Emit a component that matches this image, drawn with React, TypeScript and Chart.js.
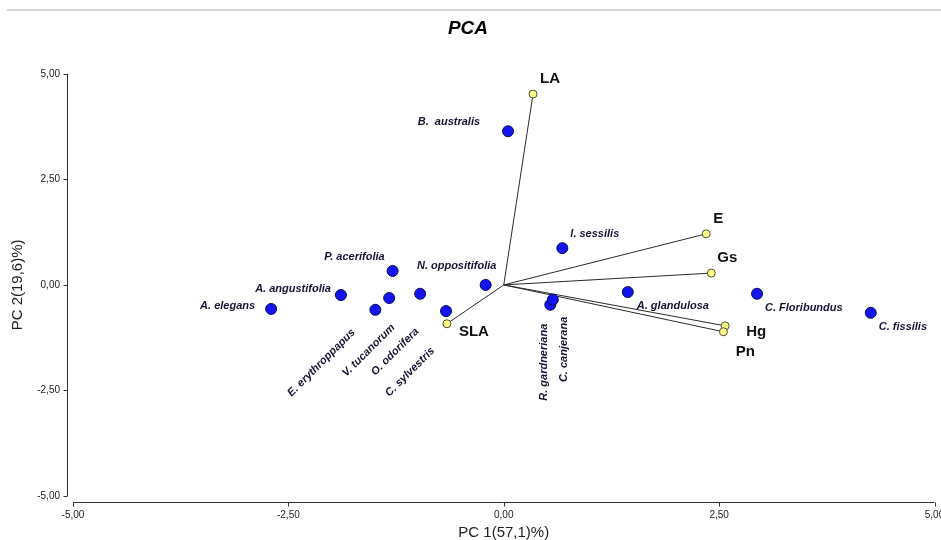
import React, { useEffect, useRef } from 'react';
import { Chart, registerables } from 'chart.js';

Chart.register(...registerables);

// ---- data ----
const speciesNames = [
  'A. elegans', 'A. angustifolia', 'P. acerifolia', 'E. erythroppapus', 'V. tucanorum',
  'O. odorifera', 'C. sylvestris', 'N. oppositifolia', 'B.  australis', 'I. sessilis',
  'R. gardneriana', 'C. canjerana', 'A. glandulosa', 'C. Floribundus', 'C. fissilis',
];
const speciesPC1 = [-2.70, -1.89, -1.29, -1.49, -1.33, -0.97, -0.67, -0.21, 0.05, 0.68, 0.54, 0.57, 1.44, 2.94, 4.26];
const speciesPC2 = [-0.57, -0.24, 0.33, -0.59, -0.31, -0.21, -0.62, 0.0, 3.64, 0.87, -0.47, -0.35, -0.17, -0.21, -0.66];

const variableNames = ['LA', 'E', 'Gs', 'Hg', 'Pn', 'SLA'];
const variablePC1 = [0.34, 2.35, 2.41, 2.57, 2.55, -0.66];
const variablePC2 = [4.52, 1.21, 0.28, -0.97, -1.11, -0.92];

const axisTicks = [-5, -2.5, 0, 2.5, 5];
const chartTitle = 'PCA';
const xTitle = 'PC 1(57,1)%)';
const yTitle = 'PC 2(19,6)%)';

// ---- label placement (pixel offsets from each mark, style only) ----
// [dx, dy, align, rotationDeg]
const speciesLabelPlace: [number, number, CanvasTextAlign, number][] = [
  [-16, -3, 'right', 0],
  [-10, -6, 'right', 0],
  [-8, -14, 'right', 0],
  [-22, 21, 'right', -45],
  [4, 28, 'right', -45],
  [-3, 36, 'right', -45],
  [-13, 38, 'right', -45],
  [-29, -19, 'center', 0],
  [-28, -9, 'right', 0],
  [8, -14, 'left', 0],
  [-6, 19, 'right', -90],
  [11, 17, 'right', -90],
  [9, 14, 'left', 0],
  [8, 14, 'left', 0],
  [8, 14, 'left', 0],
];
const variableLabelPlace: [number, number][] = [
  [17, -15], [12, -15], [16, -15], [31, 6], [22, 20], [27, 8],
];

const fmt = (v: number) => v.toFixed(2).replace('.', ',');

const labelPlugin = {
  id: 'pcaLabels',
  afterDatasetsDraw(chart: any) {
    const { ctx, scales } = chart;
    const xs = scales.x;
    const ys = scales.y;
    ctx.save();
    ctx.fillStyle = '#141432';
    ctx.font = 'italic bold 11px Arial, "Liberation Sans", sans-serif';
    ctx.textBaseline = 'middle';
    speciesNames.forEach((name, i) => {
      const px = xs.getPixelForValue(speciesPC1[i]);
      const py = ys.getPixelForValue(speciesPC2[i]);
      const [dx, dy, align, rot] = speciesLabelPlace[i];
      ctx.save();
      ctx.translate(px + dx, py + dy);
      ctx.rotate((rot * Math.PI) / 180);
      ctx.textAlign = align;
      ctx.fillText(name, 0, 0);
      ctx.restore();
    });
    ctx.fillStyle = '#111';
    ctx.font = 'bold 15px Arial, "Liberation Sans", sans-serif';
    ctx.textAlign = 'center';
    variableNames.forEach((name, i) => {
      const px = xs.getPixelForValue(variablePC1[i]);
      const py = ys.getPixelForValue(variablePC2[i]);
      const [dx, dy] = variableLabelPlace[i];
      ctx.fillText(name, px + dx, py + dy);
    });
    ctx.restore();
  },
};

// axes drawn slightly detached from the plot area, as in the reference
const axesPlugin = {
  id: 'offsetAxes',
  afterDraw(chart: any) {
    const { ctx, scales, chartArea } = chart;
    const xs = scales.x;
    const ys = scales.y;
    const yLine = Math.round(chartArea.bottom + 6) + 0.5;
    const xLine = Math.round(chartArea.left - 6) + 0.5;
    ctx.save();
    ctx.strokeStyle = '#333';
    ctx.lineWidth = 1;
    ctx.beginPath();
    // x axis
    ctx.moveTo(xs.getPixelForValue(axisTicks[0]), yLine);
    ctx.lineTo(xs.getPixelForValue(axisTicks[axisTicks.length - 1]), yLine);
    axisTicks.forEach((t) => {
      const px = Math.round(xs.getPixelForValue(t)) + 0.5;
      ctx.moveTo(px, yLine);
      ctx.lineTo(px, yLine + 4);
    });
    // y axis
    ctx.moveTo(xLine, ys.getPixelForValue(axisTicks[axisTicks.length - 1]));
    ctx.lineTo(xLine, ys.getPixelForValue(axisTicks[0]));
    axisTicks.forEach((t) => {
      const py = Math.round(ys.getPixelForValue(t)) + 0.5;
      ctx.moveTo(xLine, py);
      ctx.lineTo(xLine - 4, py);
    });
    ctx.stroke();
    ctx.restore();
  },
};

export default function App() {
  const ref = useRef<HTMLCanvasElement | null>(null);

  useEffect(() => {
    if (!ref.current) return;
    const lineSets = variableNames.map((n, i) => ({
      type: 'scatter' as const,
      label: n + ' vector',
      data: [{ x: 0, y: 0 }, { x: variablePC1[i], y: variablePC2[i] }],
      showLine: true,
      borderColor: '#2a2a2a',
      borderWidth: 1,
      pointRadius: 0,
      order: 3,
    }));
    const font10 = { family: 'Arial, "Liberation Sans", sans-serif', size: 10 };
    const chart = new Chart(ref.current, {
      type: 'scatter',
      data: {
        datasets: [
          {
            label: 'Species',
            data: speciesNames.map((_, i) => ({ x: speciesPC1[i], y: speciesPC2[i] })),
            backgroundColor: '#1414f0',
            borderColor: '#0a0a55',
            borderWidth: 1,
            pointRadius: 5.5,
            order: 1,
          },
          {
            label: 'Variables',
            data: variableNames.map((_, i) => ({ x: variablePC1[i], y: variablePC2[i] })),
            backgroundColor: '#ffff88',
            borderColor: '#4a4a3a',
            borderWidth: 1,
            pointRadius: 4,
            order: 0,
          },
          ...lineSets,
        ],
      },
      options: {
        responsive: false,
        animation: false,
        layout: { padding: { left: 0, right: 5, top: 0, bottom: 0 } },
        plugins: {
          legend: { display: false },
          tooltip: { enabled: false },
          title: {
            display: true,
            text: chartTitle,
            color: '#000',
            font: { family: 'Arial, "Liberation Sans", sans-serif', size: 19, weight: 'bold', style: 'italic' },
            padding: { top: 17, bottom: 34 },
          },
        },
        scales: {
          x: {
            type: 'linear',
            min: -5,
            max: 5,
            afterFit: (s: any) => {
              s.height = 44;
              s.paddingLeft = 0;
              s.paddingRight = 0;
            },
            afterBuildTicks: (s: any) => {
              s.ticks = axisTicks.map((v) => ({ value: v }));
            },
            ticks: {
              callback: (v: any) => fmt(Number(v)),
              font: font10,
              color: '#222',
              padding: 13,
              maxRotation: 0,
            },
            grid: { display: false, drawTicks: false, drawOnChartArea: false },
            border: { display: false },
            title: {
              display: true,
              text: xTitle,
              color: '#222',
              font: { family: 'Arial, "Liberation Sans", sans-serif', size: 15 },
              padding: { top: 0, bottom: -2 },
            },
          },
          y: {
            type: 'linear',
            min: -5,
            max: 5,
            afterFit: (s: any) => {
              s.width = 73;
            },
            afterBuildTicks: (s: any) => {
              s.ticks = axisTicks.map((v) => ({ value: v }));
            },
            ticks: {
              callback: (v: any) => fmt(Number(v)),
              font: font10,
              color: '#222',
              padding: 13,
            },
            grid: { display: false, drawTicks: false, drawOnChartArea: false },
            border: { display: false },
            title: {
              display: true,
              text: yTitle,
              color: '#222',
              font: { family: 'Arial, "Liberation Sans", sans-serif', size: 15 },
              padding: { top: 9, bottom: 0 },
            },
          },
        },
      },
      plugins: [labelPlugin, axesPlugin],
    } as any);
    return () => chart.destroy();
  }, []);

  return (
    <div style={{ position: 'fixed', left: 0, top: 0, width: 941, height: 540, background: '#fff' }}>
      <div style={{ position: 'absolute', left: 7, right: 0, top: 9, height: 2, background: '#d6d6d6' }} />
      <canvas ref={ref} width={941} height={540} style={{ display: 'block' }} />
    </div>
  );
}
